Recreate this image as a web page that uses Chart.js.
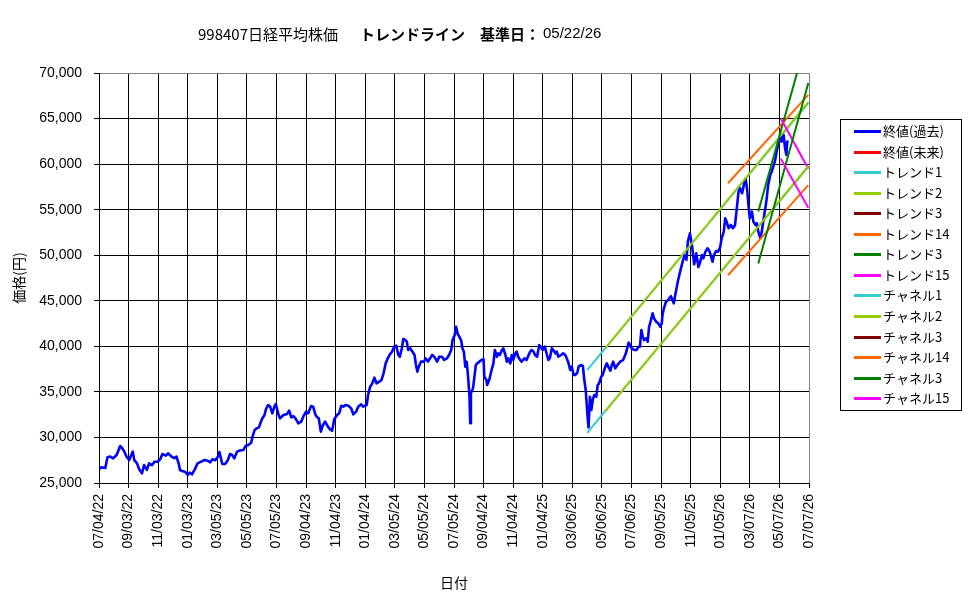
<!DOCTYPE html>
<html><head><meta charset="utf-8">
<script src="https://cdn.jsdelivr.net/npm/chart.js@4/dist/chart.umd.min.js"></script>
<style>html,body{margin:0;padding:0;background:#fff}</style>
</head><body>
<canvas id="c" width="975" height="599"></canvas>
<script>
// ---- data ----
const titleParts = ['998407日経平均株価', 'トレンドライン　基準日：', '05/22/26'];
const xTitle = '日付';
const yTitle = '価格(円)';
const tickLabels = ['07/04/22','09/03/22','11/03/22','01/03/23','03/05/23','05/05/23','07/05/23','09/04/23','11/04/23','01/04/24','03/05/24','05/05/24','07/05/24','09/04/24','11/04/24','01/04/25','03/06/25','05/06/25','07/06/25','09/05/25','11/05/25','01/05/26','03/07/26','05/07/26','07/07/26'];
const daysPerTick = 42; // trading days between labels

// closing price (past): [trading-day index, price]
const closePast = [
[0,26500],[3,26720],[9,26650],[12,27820],[16,27900],[20,27700],[25,28070],[30,29060],[32,28920],[36,28440],
[39,27900],[43,27520],[45,27960],[48,28440],[50,27520],[54,27160],[57,26500],[61,26060],[64,26970],[68,26430],
[71,27160],[75,26970],[79,27340],[83,27340],[87,27600],[90,28180],[95,28000],[98,28260],[103,27900],[107,27720],
[110,27900],[113,27160],[115,26430],[118,26320],[122,26240],[126,25880],[129,26130],[132,25950],[136,26500],[140,27160],
[145,27340],[150,27520],[154,27450],[158,27270],[161,27600],[165,27500],[169,27900],[171,28400],[175,27080],[179,27080],
[183,27520],[186,28180],[189,28070],[192,27700],[196,28440],[200,28560],[205,28620],[208,29060],[212,29170],[216,29420],
[218,30080],[221,30820],[224,31000],[227,31110],[229,31550],[232,32100],[235,32460],[237,33090],[240,33560],[243,33380],
[246,32650],[249,33380],[251,33670],[255,32460],[257,32100],[262,32460],[267,32570],[270,32940],[273,32210],[276,32350],
[279,32100],[283,31550],[287,31730],[290,32280],[294,32830],[297,32650],[301,33440],[304,33380],[307,32570],[309,32280],
[312,32100],[315,30630],[318,31370],[321,31730],[325,31190],[328,30890],[331,30740],[334,31990],[338,32460],[341,32650],
[344,33480],[347,33380],[350,33560],[354,33480],[358,33190],[361,32530],[365,32830],[368,33380],[372,33640],[375,33380],
[380,33560],[382,34660],[385,35570],[388,35940],[391,36560],[394,35940],[398,36120],[401,36300],[404,37040],[407,38130],
[410,38680],[413,39120],[416,39410],[419,39960],[422,40070],[425,39050],[427,38860],[430,39780],[432,40800],[435,40690],
[437,40510],[439,39600],[442,39780],[445,39410],[448,39050],[450,37950],[452,37210],[454,37770],[457,38320],[461,38320],
[464,38680],[467,38320],[470,38680],[473,39050],[476,38860],[480,38320],[483,38860],[487,38860],[490,38500],[494,38680],
[497,39050],[500,39600],[502,40690],[505,41240],[507,42150],[509,41430],[514,40690],[516,39780],[518,39410],[520,37770],
[522,38320],[524,36670],[526,34470],[527,31550],[528,34840],[531,35390],[533,36670],[535,37950],[537,38130],[540,38320],
[543,38500],[546,38570],[547,36670],[550,36300],[551,35750],[554,36300],[558,37590],[560,38130],[562,39600],[565,38860],
[567,39230],[569,39050],[572,39600],[574,39780],[577,39050],[579,38320],[581,38680],[584,38130],[586,39050],[588,38500],
[591,39230],[593,39410],[595,38860],[598,38500],[600,38320],[604,38680],[607,38500],[610,39050],[612,39410],[614,39600],
[617,39410],[619,39050],[622,38860],[625,40150],[627,39960],[630,39600],[633,39960],[636,39050],[638,38500],[640,38680],
[643,39780],[645,39600],[648,39230],[650,39410],[652,38860],[656,39050],[659,39230],[662,39050],[664,38680],[666,38320],
[669,37400],[671,37770],[674,36850],[676,36850],[679,37100],[681,37770],[684,37950],[687,37840],[689,36300],[691,35210],
[693,33010],[694,31910],[695,31100],[697,34470],[699,33010],[701,34110],[703,34660],[706,34470],[708,35750],[710,35940],
[713,36670],[715,36850],[718,37590],[721,38130],[723,37770],[726,37320],[728,37950],[730,38320],[733,37590],[736,37950],
[740,38320],[744,38500],[746,38860],[748,39230],[752,40400],[754,40150],[756,39780],[760,39600],[763,39600],[766,39960],
[768,39960],[770,41790],[772,41060],[774,40690],[777,40880],[779,40510],[781,42150],[783,42700],[786,43620],[788,43070],
[791,42700],[794,42520],[797,42150],[799,42520],[800,43440],[802,44170],[805,44900],[808,45090],[812,45500],[816,44720],
[819,46000],[822,47200],[826,48500],[831,50000],[834,49500],[836,51500],[839,52400],[842,51000],[845,49000],[848,50200],
[851,48700],[853,49120],[856,50020],[858,49660],[861,50390],[864,50760],[867,50390],[869,49840],[871,49290],[873,50020],
[876,50460],[879,50390],[882,50940],[884,51860],[887,52590],[889,54050],[891,53690],[894,52960],[897,53320],[900,52960],
[903,53320],[906,55520],[908,56980],[910,57350],[913,56800],[915,57530],[918,58440],[920,57350],[922,55520],[924,54050],
[927,54780],[929,53690],[932,53320],[934,53510],[936,52590],[939,51860],[941,52590],[943,53690],[946,55150],[948,56250],
[950,57710],[953,58810],[955,59170],[958,59900],[960,60450],[962,61360],[965,62460],[967,63190],[969,62460],[972,63190],
[974,61730],[976,61000],[977,62460],[979,62500]
];
const closeFuture = [];

// trend / channel lines: [trading-day index, price] at both ends
const trend1   = [[693,37400],[1007,66700]];
const trend2   = [[719,39800],[1007,66800]];
const trend3a  = [];
const trend14  = [[893,57900],[1007,67600]];
const trend3b  = [[936,54800],[991,70000]];
const trend15  = [[968,65000],[1007,59500]];
const channel1 = [[693,30500],[1007,59700]];
const channel2 = [[719,32900],[1007,59800]];
const channel3a= [];
const channel14= [[893,47800],[1007,57700]];
const channel3b= [[936,49100],[1007,68900]];
const channel15= [[968,60600],[1007,55200]];

const seriesNames = ['終値(過去)','終値(未来)','トレンド1','トレンド2','トレンド3','トレンド14','トレンド3','トレンド15','チャネル1','チャネル2','チャネル3','チャネル14','チャネル3','チャネル15'];
const seriesData  = [closePast, closeFuture, trend1, trend2, trend3a, trend14, trend3b, trend15, channel1, channel2, channel3a, channel14, channel3b, channel15];
const seriesColors= ['#0000FF','#FF0000','#33CCCC','#99CC00','#800000','#FF6600','#008000','#FF00FF','#33CCCC','#99CC00','#800000','#FF6600','#008000','#FF00FF'];

// ---- chart ----
const N = seriesNames.length;
const datasets = seriesNames.map((name, i) => ({
  label: name,
  data: seriesData[i].map(p => ({x: p[0], y: p[1]})),
  borderColor: seriesColors[i],
  backgroundColor: seriesColors[i],
  borderWidth: i === 0 ? 2.6 : 2,
  pointRadius: 0,
  tension: 0,
  borderJoinStyle: 'round',
  // later series drawn on top (cyan under yellow-green)
  order: (i === 2 || i === 8) ? N + 5 : N - i
}));

const FONT_JP = '"Noto Sans CJK JP", "Liberation Sans", sans-serif';

const titlePlugin = {
  id: 'titleParts',
  afterDraw(chart) {
    const ctx = chart.ctx;
    ctx.save();
    ctx.fillStyle = '#000';
    ctx.textBaseline = 'middle';
    ctx.textAlign = 'left';
    ctx.font = '15px ' + FONT_JP;
    ctx.fillText(titleParts[0], 198, 34);
    ctx.font = 'bold 15px ' + FONT_JP;
    ctx.fillText(titleParts[1], 360, 34);
    ctx.font = '15px "Liberation Sans", sans-serif';
    ctx.fillText(titleParts[2], 543, 34);
    ctx.restore();
  }
};

const legendPlugin = {
  id: 'boxLegend',
  afterDraw(chart) {
    const ctx = chart.ctx;
    ctx.save();
    ctx.fillStyle = '#fff';
    ctx.fillRect(840, 119, 121, 291);
    ctx.strokeStyle = '#000';
    ctx.lineWidth = 1;
    ctx.strokeRect(840.5, 119.5, 121, 291);
    ctx.font = '13px ' + FONT_JP;
    ctx.textBaseline = 'middle';
    ctx.textAlign = 'left';
    chart.data.datasets.forEach((ds, i) => {
      const y = Math.round(131 + i * 20.55) + 0.5;
      ctx.strokeStyle = ds.borderColor;
      ctx.lineWidth = 3;
      ctx.beginPath();
      ctx.moveTo(854, y);
      ctx.lineTo(881, y);
      ctx.stroke();
      ctx.fillStyle = '#000';
      ctx.fillText(ds.label, 883, y);
    });
    ctx.restore();
  }
};

const bgPlugin = {
  id: 'bg',
  beforeDraw(chart) {
    const ctx = chart.ctx;
    ctx.save();
    ctx.fillStyle = '#fff';
    ctx.fillRect(0, 0, chart.width, chart.height);
    ctx.restore();
  }
};

const xMax = daysPerTick * (tickLabels.length - 1);

new Chart(document.getElementById('c'), {
  type: 'line',
  data: { datasets },
  options: {
    responsive: false,
    devicePixelRatio: 1,
    animation: false,
    layout: { padding: { left: 0, top: 73, right: 166, bottom: 0 } },
    plugins: {
      legend: { display: false },
      title: { display: false },
      tooltip: { enabled: false }
    },
    scales: {
      x: {
        type: 'linear',
        min: 0,
        max: xMax,
        afterFit: s => { s.height = 116; },
        afterBuildTicks: s => {
          s.ticks = tickLabels.map((_, i) => ({ value: i * daysPerTick }));
        },
        ticks: {
          autoSkip: false,
          minRotation: 90,
          maxRotation: 90,
          padding: 6,
          color: '#000',
          font: { family: '"Liberation Sans", sans-serif', size: 14 },
          callback: (v, i) => tickLabels[i]
        },
        grid: {
          color: c => (c.tick && c.tick.value === xMax) ? '#808080' : '#000',
          tickColor: '#000',
          tickLength: 5,
          lineWidth: 1
        },
        border: { color: '#000', width: 1 },
        title: {
          display: true,
          text: xTitle,
          color: '#000',
          font: { family: FONT_JP, size: 14 },
          padding: { top: 0, bottom: 8 }
        }
      },
      y: {
        min: 25000,
        max: 70000,
        afterFit: s => { s.width = 99; },
        ticks: {
          stepSize: 5000,
          padding: 12,
          color: '#000',
          font: { family: '"Liberation Sans", sans-serif', size: 14 },
          callback: v => v.toLocaleString('en-US')
        },
        grid: {
          color: c => (c.tick && c.tick.value === 70000) ? '#808080' : '#000',
          tickColor: '#000',
          tickLength: 5,
          lineWidth: 1
        },
        border: { color: '#000', width: 1 },
        title: {
          display: true,
          text: yTitle,
          color: '#000',
          font: { family: FONT_JP, size: 14 },
          padding: { top: 10, bottom: 0 }
        }
      }
    }
  },
  plugins: [bgPlugin, titlePlugin, legendPlugin]
});
</script>
</body></html>
